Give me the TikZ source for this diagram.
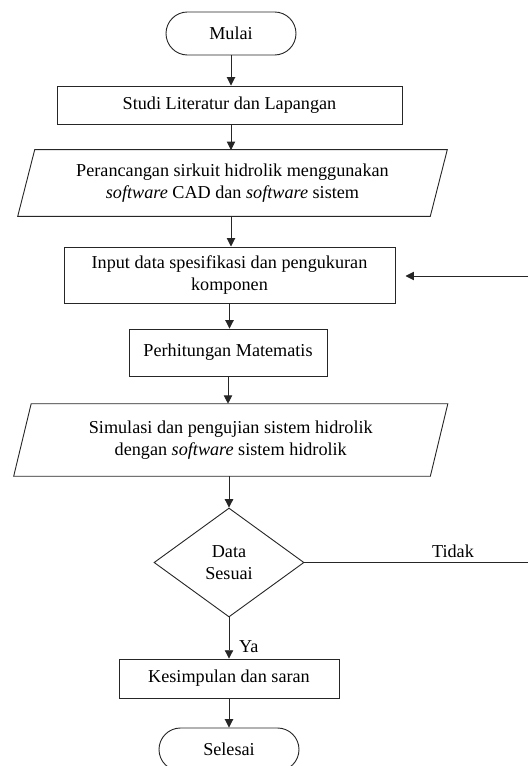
\documentclass[tikz,border=0pt]{standalone}
\usepackage{fontspec}
\setmainfont{Liberation Serif}
\usetikzlibrary{shapes.geometric,shapes.misc,arrows.meta,calc}
\begin{document}
\begin{tikzpicture}[x=0.66pt,y=-0.66pt,
  font=\fontsize{12pt}{14.5pt}\selectfont,
  ln/.style={draw=black!85,line width=0.6pt},
  arr/.style={ln,-{Triangle[length=5.5pt,width=5.5pt]}},
  term/.style={ln,rounded rectangle,inner sep=0pt},
  proc/.style={ln,rectangle,inner sep=0pt,align=center},
  iobox/.style={rectangle,inner sep=0pt,align=center},
  dec/.style={ln,diamond,inner sep=0pt,align=center}]
\useasboundingbox (0,0) rectangle (528,766);
\node[term,minimum width=85.8pt,minimum height=28.4pt] (mulai) at (231,33.5) {Mulai};
\node[proc,minimum width=227.7pt,minimum height=25.1pt] (studi) at (229.5,105) {Studi Literatur dan Lapangan};
\node[iobox,minimum width=271.9pt,minimum height=43.6pt] (p1) at (232.5,183) {Perancangan sirkuit hidrolik menggunakan\\\textit{software} CAD dan \textit{software} sistem};
\draw[ln] ($(p1.north west)+(8.5,0)$) -- ($(p1.north east)+(8.5,0)$) -- ($(p1.south east)+(-8.5,0)$) -- ($(p1.south west)+(-8.5,0)$) -- cycle;
\node[proc,minimum width=218.5pt,minimum height=37pt] (inp) at (229.5,275) {Input data spesifikasi dan pengukuran\\komponen};
\node[proc,minimum width=130.7pt,minimum height=31pt] (hit) at (228,352.5) {Perhitungan Matematis};
\node[iobox,minimum width=274.6pt,minimum height=47.5pt] (p2) at (230.75,440) {Simulasi dan pengujian sistem hidrolik\\dengan \textit{software} sistem hidrolik};
\draw[ln] ($(p2.north west)+(8.75,0)$) -- ($(p2.north east)+(8.75,0)$) -- ($(p2.south east)+(-8.75,0)$) -- ($(p2.south west)+(-8.75,0)$) -- cycle;
\node[dec,minimum width=99pt,minimum height=71.9pt] (dat) at (229,562.5) {Data\\Sesuai};
\node[proc,minimum width=145.2pt,minimum height=25.7pt] (kes) at (229,678.5) {Kesimpulan dan saran};
\node[term,minimum width=92.4pt,minimum height=28.4pt] (sel) at (229,749.5) {Selesai};
\coordinate (rt) at (528,562.5);
\coordinate (rb) at (528,276);
% connectors
\draw[arr] (mulai.south) -- (mulai.south |- studi.north);
\draw[arr] (studi.south -| 231,0) -- (231,150);
\draw[arr] (231,216) -- (inp.north -| 231,0);
\draw[arr] (inp.south) -- (inp.south |- hit.north);
\draw[arr] (hit.south) -- (hit.south |- p2.north);
\draw[arr] (p2.south -| dat.north) -- (dat.north);
\draw[arr] (dat.south) -- node[right=3pt,pos=0.7]{Ya} (dat.south |- kes.north);
\draw[arr] (kes.south) -- (kes.south |- sel.north);
\draw[ln] (dat.east) -- (rt);
\node (tidak) at (453,551) {Tidak};
\draw[arr,shorten >=6.6pt] (rb) -- (rb -| inp.east);
\end{tikzpicture}
\end{document}
